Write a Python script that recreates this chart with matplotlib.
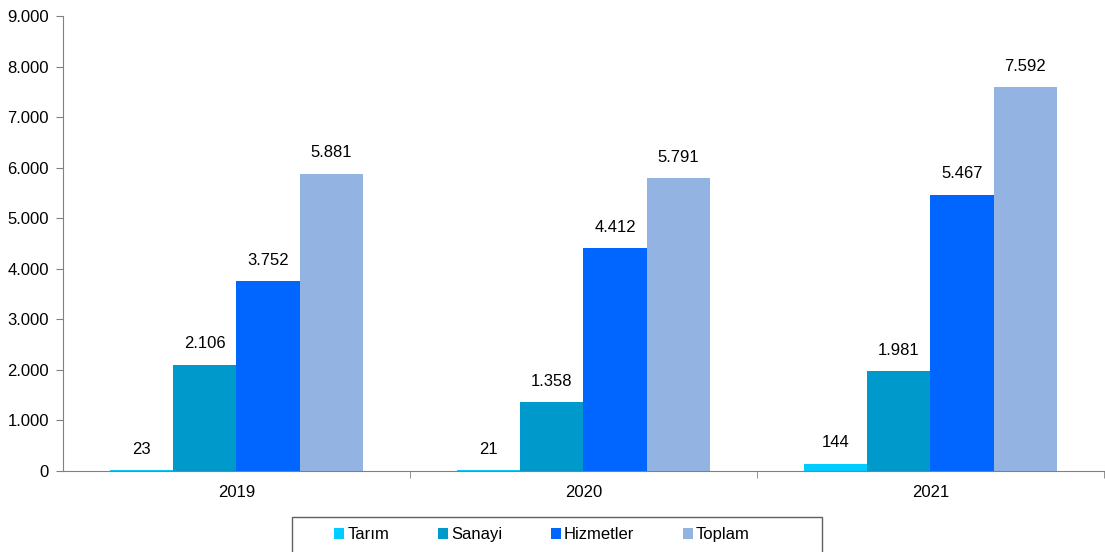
import numpy as np
import matplotlib.pyplot as plt
from matplotlib.patches import Patch, Rectangle

plt.rcParams['font.family'] = ['Liberation Sans', 'DejaVu Sans']

years = ["2019", "2020", "2021"]
series = ["Tarım", "Sanayi", "Hizmetler", "Toplam"]
tarim = [23, 21, 144]
sanayi = [2106, 1358, 1981]
hizmetler = [3752, 4412, 5467]
toplam = [5881, 5791, 7592]
colors = ["#00CCFF", "#0099CC", "#0066FF", "#93B3E2"]

values = [tarim, sanayi, hizmetler, toplam]


def fmt(v):
    return f"{v:,}".replace(",", ".")


fs = 12
fig = plt.figure(figsize=(11.05, 5.52), dpi=100)
ax = fig.add_axes([0.057, 0.1467, 0.942, 0.8243])

x = np.arange(len(years))
w = 0.182
for i, (name, vals) in enumerate(zip(series, values)):
    pos = x + (i - 1.5) * w
    ax.bar(pos, vals, width=w, color=colors[i], label=name, edgecolor="none")
    for p, v in zip(pos, vals):
        ax.annotate(fmt(v), (p, v), xytext=(0, 15), textcoords="offset points",
                    ha="center", va="center", fontsize=fs, color="black")

ax.set_xlim(-0.5, 2.5)
ax.set_ylim(0, 9000)
ax.set_yticks(range(0, 9001, 1000))
ax.set_yticklabels([fmt(v) for v in range(0, 9001, 1000)], fontsize=fs)

ax.set_xticks(x)
ax.set_xticklabels(years, fontsize=fs)
ax.tick_params(axis="x", length=0, pad=10)
ax.set_xticks([0.5, 1.5, 2.5], minor=True)
ax.tick_params(axis="x", which="minor", length=5, direction="out", color="#808080")
ax.tick_params(axis="y", length=5, direction="out", color="#808080", pad=5)

for s in ["top", "right"]:
    ax.spines[s].set_visible(False)
for s in ["left", "bottom"]:
    ax.spines[s].set_color("#808080")

handles = [Patch(facecolor=c, edgecolor="none") for c in colors]
leg = fig.legend(handles, series, loc="center", bbox_to_anchor=(0.4905, 0.031),
                 ncol=4, fontsize=fs, frameon=False,
                 handlelength=0.6, handleheight=0.6, handletextpad=0.2,
                 columnspacing=2.9, borderpad=0, borderaxespad=0)

# legend box (runs off the bottom edge like the original)
fig.patches.append(Rectangle((292 / 1105, -0.05), (822 - 292) / 1105, 0.05 + 35 / 552,
                             transform=fig.transFigure, fill=False,
                             edgecolor="#606060", linewidth=1.0))

fig.savefig("out.png", dpi=100)
